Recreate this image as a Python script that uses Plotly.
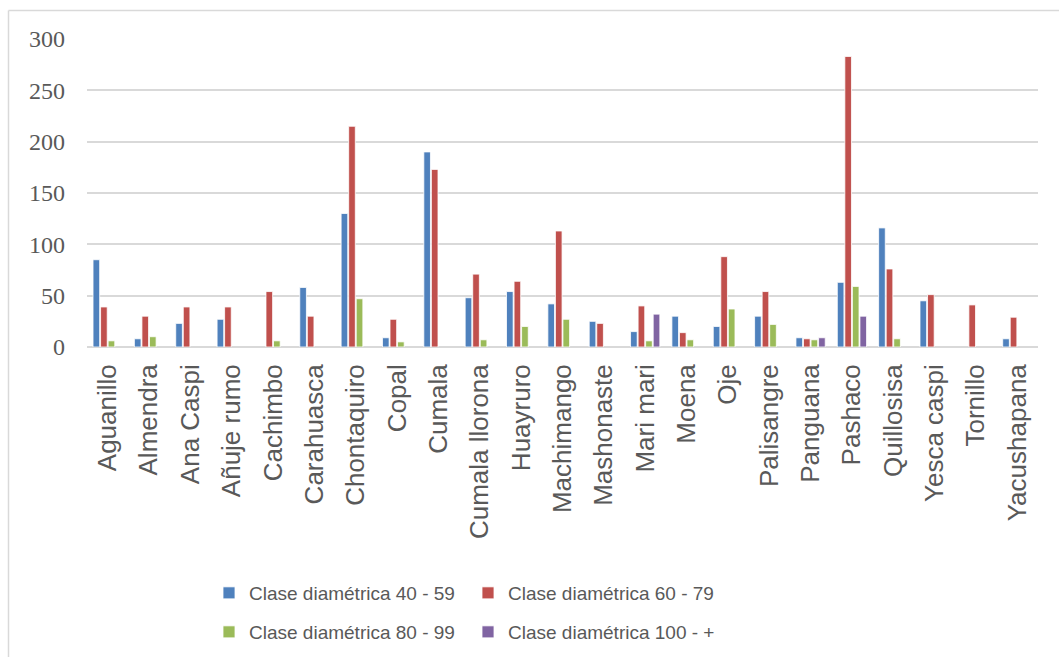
import plotly.graph_objects as go

especies = ["Aguanillo", "Almendra", "Ana Caspi", "Añuje rumo", "Cachimbo", "Carahuasca",
            "Chontaquiro", "Copal", "Cumala", "Cumala llorona", "Huayruro", "Machimango",
            "Mashonaste", "Mari mari", "Moena", "Oje", "Palisangre", "Panguana", "Pashaco",
            "Quillosisa", "Yesca caspi", "Tornillo", "Yacushapana"]

clase_40_59 = [85, 8, 23, 27, None, 58, 130, 9, 190, 48, 54, 42, 25, 15, 30, 20, 30, 9, 63, 116, 45, None, 8]
clase_60_79 = [39, 30, 39, 39, 54, 30, 215, 27, 173, 71, 64, 113, 23, 40, 14, 88, 54, 8, 283, 76, 51, 41, 29]
clase_80_99 = [6, 10, None, None, 6, None, 47, 5, None, 7, 20, 27, None, 6, 7, 37, 22, 7, 59, 8, None, None, None]
clase_100_mas = [None, None, None, None, None, None, None, None, None, None, None, None, None, 32, None, None, None, 9, 30, None, None, None, None]

series = [
    ("Clase diamétrica 40 - 59", clase_40_59, "#4f81bd", "legend"),
    ("Clase diamétrica 60 - 79", clase_60_79, "#c0504d", "legend"),
    ("Clase diamétrica 80 - 99", clase_80_99, "#9bbb59", "legend2"),
    ("Clase diamétrica 100 - +", clase_100_mas, "#8064a2", "legend2"),
]

W, H = 1059, 657
ML, MR, MT, MB = 87, 21, 39, 310
PW, PH = W - ML - MR, H - MT - MB


def px_x(x):
    return (x - ML) / PW


def px_y(y):
    return (H - MB - y) / PH


fig = go.Figure()
for name, vals, color, leg in series:
    fig.add_trace(go.Bar(
        x=especies, y=vals, name=name, legend=leg,
        marker=dict(color=color, line=dict(color="white", width=0.8)),
    ))

grid = "#d9d9d9"
text_col = "#595959"

legend_common = dict(
    orientation="h", xanchor="left", yanchor="middle",
    font=dict(family="Liberation Sans, Arial, sans-serif", size=19, color=text_col),
    entrywidth=214, itemwidth=30, bgcolor="rgba(0,0,0,0)", traceorder="normal",
)

fig.update_layout(
    width=W, height=H,
    margin=dict(l=ML, r=MR, t=MT, b=MB, pad=0, autoexpand=False),
    paper_bgcolor="white", plot_bgcolor="white",
    barmode="group", bargap=0.27, bargroupgap=0.12,
    showlegend=True,
    legend=dict(x=px_x(209), y=px_y(593), **legend_common),
    legend2=dict(x=px_x(209), y=px_y(632), **legend_common),
    xaxis=dict(
        type="category", tickangle=-90, showgrid=False, showline=False,
        ticks="", ticklabelstandoff=11,
        tickfont=dict(family="Liberation Sans, Arial, sans-serif", size=26, color=text_col),
    ),
    yaxis=dict(
        range=[0, 300], dtick=50, showgrid=True, gridcolor=grid, gridwidth=1.6,
        zeroline=True, zerolinecolor=grid, zerolinewidth=1.6, showline=False,
        ticks="", ticklabelstandoff=21,
        tickfont=dict(family="Liberation Serif, Times New Roman, serif", size=24, color=text_col),
    ),
    shapes=[
        dict(type="line", xref="paper", yref="paper", x0=px_x(8.5), x1=px_x(8.5),
             y0=px_y(10.5), y1=px_y(H + 2), line=dict(color=grid, width=1.5)),
        dict(type="line", xref="paper", yref="paper", x0=px_x(8.5), x1=px_x(W + 2),
             y0=px_y(10.5), y1=px_y(10.5), line=dict(color=grid, width=1.5)),
    ],
)

fig.write_html("out.html")
